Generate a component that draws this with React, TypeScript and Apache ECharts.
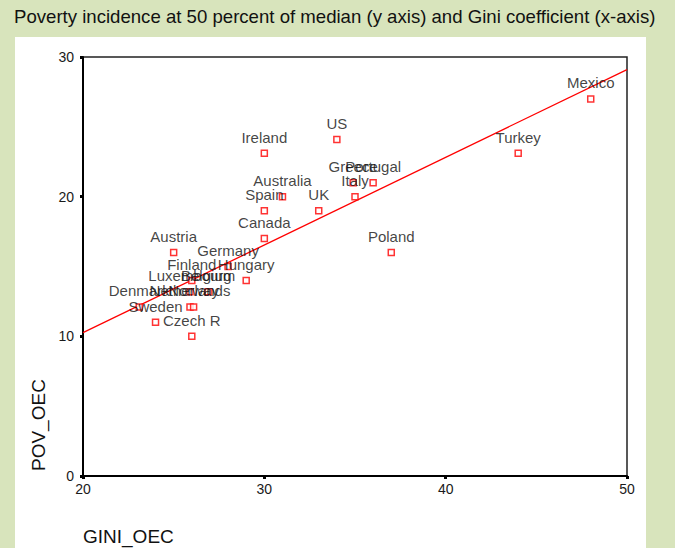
import React, { useEffect, useRef } from "react";
import * as echarts from "echarts";

const countries = [
  "Mexico", "Turkey", "US", "Ireland", "Greece", "Portugal", "Italy", "Australia",
  "Spain", "UK", "Canada", "Poland", "Austria", "Germany", "Finland", "Hungary",
  "Luxembourg", "Belgium", "Denmark", "Netherlands", "Norway", "Sweden", "Czech R",
];
const gini = [48, 44, 34, 30, 34.9, 36, 35, 31, 30, 33, 30, 37, 25, 28, 26, 29, 25.9, 26.9, 23.1, 25.9, 26.1, 24, 26];
const pov = [27, 23.1, 24.1, 23.1, 21, 21, 20, 20, 19, 19, 17, 16, 16, 15, 14, 14, 13.2, 13.2, 12.1, 12.1, 12.1, 11, 10];
const fitX = [20, 50];
const fitY = [10.26, 29.1];
const xTicks = { min: 20, max: 50, interval: 10 };
const yTicks = { min: 0, max: 30, interval: 10 };

export default function App() {
  const ref = useRef<HTMLDivElement>(null);
  useEffect(() => {
    if (!ref.current) return;
    const chart = echarts.init(ref.current, null, { renderer: "svg" });
    const font = "'Liberation Sans', Arial, sans-serif";
    chart.setOption({
      animation: false,
      backgroundColor: "#d8e4bc",
      textStyle: { fontFamily: font },
      graphic: [
        { type: "rect", z: -10, shape: { x: 15, y: 37, width: 631, height: 520 }, style: { fill: "#ffffff" } },
        {
          type: "text", left: 14, top: 7,
          style: { text: "Poverty incidence at 50 percent of median (y axis) and Gini coefficient (x-axis)", font: `18.6px ${font}`, fill: "#111" },
        },
        {
          type: "text", x: 29, y: 471, rotation: Math.PI / 2,
          style: { text: "POV_OEC", font: `19px ${font}`, fill: "#111" },
        },
        {
          type: "text", left: 83, top: 527,
          style: { text: "GINI_OEC", font: `19px ${font}`, fill: "#111" },
        },
      ],
      grid: { left: 83, right: 48, top: 57, bottom: 72, show: true, borderColor: "#222", borderWidth: 1.5 },
      xAxis: {
        type: "value", ...xTicks,
        axisLine: { show: true, lineStyle: { color: "#000", width: 2 } },
        axisTick: { show: true, length: 3, lineStyle: { color: "#000", width: 3 } },
        splitLine: { show: false },
        axisLabel: { fontSize: 14, color: "#1a1a1a", margin: 6, fontFamily: font },
      },
      yAxis: {
        type: "value", ...yTicks,
        axisLine: { show: true, lineStyle: { color: "#000", width: 2 } },
        axisTick: { show: true, length: 3, lineStyle: { color: "#000", width: 3 } },
        splitLine: { show: false },
        axisLabel: { fontSize: 14, color: "#1a1a1a", margin: 9, fontFamily: font },
      },
      series: [
        {
          type: "line",
          data: fitX.map((x, i) => [x, fitY[i]]),
          symbol: "none",
          lineStyle: { color: "#ff0000", width: 1.3 },
          silent: true,
          z: 1,
        },
        {
          type: "scatter",
          data: countries.map((c, i) => ({ name: c, value: [gini[i], pov[i]] })),
          symbol: "rect",
          symbolSize: 6,
          itemStyle: { color: "#ffffff", borderColor: "#ff0000", borderWidth: 1.5 },
          label: {
            show: true, position: "top", distance: 5, formatter: "{b}",
            fontSize: 15, color: "#111", fontFamily: font,
          },
          z: 2,
        },
      ],
    });
    return () => chart.dispose();
  }, []);
  return <div ref={ref} style={{ position: "fixed", left: 0, top: 0, width: 675, height: 548 }} />;
}
